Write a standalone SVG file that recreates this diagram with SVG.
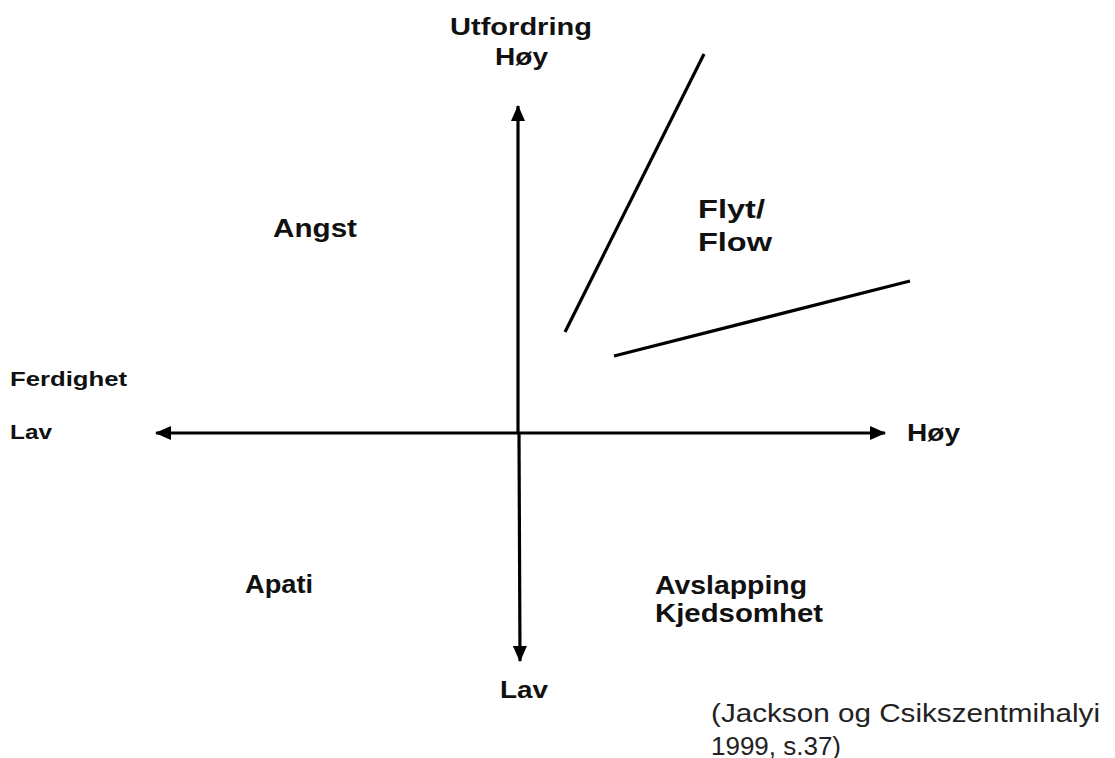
<svg xmlns="http://www.w3.org/2000/svg" width="1115" height="758" viewBox="0 0 1115 758">
<style>
.b{font-family:"Liberation Sans",Arial,sans-serif;font-weight:bold;fill:#111;}
.n{font-family:"Liberation Sans",Arial,sans-serif;fill:#222;}
.ax{stroke:#000;stroke-width:3.2;fill:none;}
</style>
<defs>
<marker id="ah" markerUnits="userSpaceOnUse" markerWidth="16" markerHeight="14" refX="15" refY="7" orient="auto">
<path d="M0,0 L16,7 L0,14 Z" fill="#000"/>
</marker>
</defs>
<rect width="1115" height="758" fill="#fff"/>
<g id="connectors">
<line class="ax" x1="518" y1="433" x2="518" y2="106" marker-end="url(#ah)"/>
<line class="ax" x1="519" y1="433" x2="520" y2="661" marker-end="url(#ah)"/>
<line class="ax" x1="519" y1="433" x2="885" y2="433" marker-end="url(#ah)"/>
<line class="ax" x1="519" y1="433" x2="156" y2="433" marker-end="url(#ah)"/>
<line class="ax" x1="565" y1="332" x2="704" y2="54"/>
<line class="ax" x1="614" y1="356" x2="910" y2="281"/>
</g>
<g id="top-label">
<text class="b" x="450" y="35" font-size="24" textLength="142" lengthAdjust="spacingAndGlyphs">Utfordring</text>
<text class="b" x="495" y="65" font-size="24" textLength="53" lengthAdjust="spacingAndGlyphs">Høy</text>
</g>
<g id="angst"><text class="b" x="273" y="237" font-size="25" textLength="84" lengthAdjust="spacingAndGlyphs">Angst</text></g>
<g id="flow">
<text class="b" x="698" y="218" font-size="26" textLength="67" lengthAdjust="spacingAndGlyphs">Flyt/</text>
<text class="b" x="698" y="251" font-size="26" textLength="74" lengthAdjust="spacingAndGlyphs">Flow</text>
</g>
<g id="left-label">
<text class="b" x="10" y="386" font-size="20" textLength="117" lengthAdjust="spacingAndGlyphs">Ferdighet</text>
<text class="b" x="10" y="439" font-size="21" textLength="42" lengthAdjust="spacingAndGlyphs">Lav</text>
</g>
<g id="right-label"><text class="b" x="907" y="441" font-size="23" textLength="53" lengthAdjust="spacingAndGlyphs">Høy</text></g>
<g id="apati"><text class="b" x="245" y="593" font-size="25" textLength="68" lengthAdjust="spacingAndGlyphs">Apati</text></g>
<g id="avslapping">
<text class="b" x="655" y="594" font-size="25" textLength="152" lengthAdjust="spacingAndGlyphs">Avslapping</text>
<text class="b" x="655" y="622" font-size="25" textLength="168" lengthAdjust="spacingAndGlyphs">Kjedsomhet</text>
</g>
<g id="bottom-label"><text class="b" x="500" y="698" font-size="23" textLength="48" lengthAdjust="spacingAndGlyphs">Lav</text></g>
<g id="citation">
<text class="n" x="711" y="722" font-size="25" textLength="389" lengthAdjust="spacingAndGlyphs">(Jackson og Csikszentmihalyi</text>
<text class="n" x="711" y="755" font-size="25" textLength="130" lengthAdjust="spacingAndGlyphs">1999, s.37)</text>
</g>
</svg>
